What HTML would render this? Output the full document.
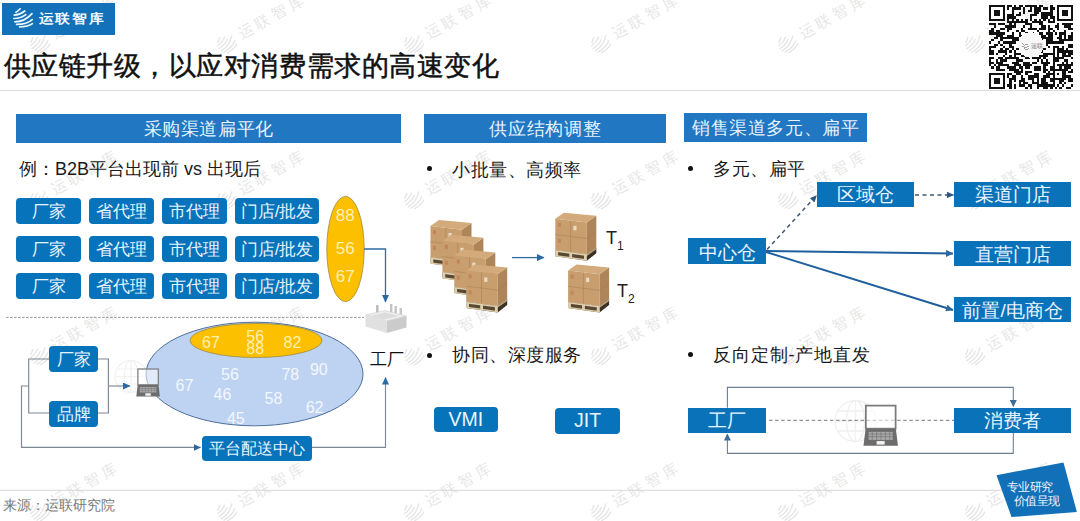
<!DOCTYPE html>
<html><head><meta charset="utf-8">
<style>
*{margin:0;padding:0;box-sizing:border-box}
html,body{width:1080px;height:521px;overflow:hidden;background:#fff}
body{position:relative;font-family:"Liberation Sans",sans-serif;color:#1a1a1a}
.a{position:absolute;white-space:nowrap;line-height:1}
.hb{position:absolute;background:#2277c3;color:#e6f3ff;font-size:18px;line-height:31px;text-align:center;height:29px;letter-spacing:0.65px;padding-left:0.65px;overflow:hidden}
.bx{position:absolute;background:#0673bb;color:#e8f5ff;border-radius:4px;text-align:center;font-size:17px;line-height:28px;height:26px}
.sq{position:absolute;background:#0a72b9;color:#e8f5ff;text-align:center;font-size:19px;height:26px;line-height:26px}
.t18{font-size:18px}
.bul{position:absolute;width:5.4px;height:5.4px;border-radius:50%;background:#111}
svg{position:absolute;left:0;top:0}
.wm{position:absolute;width:0;height:0;transform:rotate(-29.5deg)}
.wm svg{left:-10px;top:-10px}
.wm div{position:absolute;left:15px;top:-10px;font-size:15px;line-height:1;letter-spacing:4.2px;color:#e6e6e6;white-space:nowrap}

</style></head><body>

<!-- watermarks -->
<div class="wm" style="left:39.5px;top:44.3px"><svg width="20" height="20" viewBox="0 0 21 21"><g fill="none" stroke="#e6e6e6" stroke-width="1.5" stroke-linecap="round"><path d="M3,4.2 Q5,3.2 7.2,0.8"/><path d="M1.2,7.2 Q7,6.8 11.8,3"/><path d="M0.8,10.5 Q8,10.4 12.8,6.6"/><path d="M1.8,13.8 Q12,13.6 19,5.6"/><path d="M3.6,16.4 Q14,16.4 19.2,11.6"/><path d="M6.6,18.8 Q15,18.8 19.4,15.6"/></g></svg><div>运联智库</div></div>
<div class="wm" style="left:226.6px;top:44.3px"><svg width="20" height="20" viewBox="0 0 21 21"><g fill="none" stroke="#e6e6e6" stroke-width="1.5" stroke-linecap="round"><path d="M3,4.2 Q5,3.2 7.2,0.8"/><path d="M1.2,7.2 Q7,6.8 11.8,3"/><path d="M0.8,10.5 Q8,10.4 12.8,6.6"/><path d="M1.8,13.8 Q12,13.6 19,5.6"/><path d="M3.6,16.4 Q14,16.4 19.2,11.6"/><path d="M6.6,18.8 Q15,18.8 19.4,15.6"/></g></svg><div>运联智库</div></div>
<div class="wm" style="left:413.7px;top:44.3px"><svg width="20" height="20" viewBox="0 0 21 21"><g fill="none" stroke="#e6e6e6" stroke-width="1.5" stroke-linecap="round"><path d="M3,4.2 Q5,3.2 7.2,0.8"/><path d="M1.2,7.2 Q7,6.8 11.8,3"/><path d="M0.8,10.5 Q8,10.4 12.8,6.6"/><path d="M1.8,13.8 Q12,13.6 19,5.6"/><path d="M3.6,16.4 Q14,16.4 19.2,11.6"/><path d="M6.6,18.8 Q15,18.8 19.4,15.6"/></g></svg><div>运联智库</div></div>
<div class="wm" style="left:600.8px;top:44.3px"><svg width="20" height="20" viewBox="0 0 21 21"><g fill="none" stroke="#e6e6e6" stroke-width="1.5" stroke-linecap="round"><path d="M3,4.2 Q5,3.2 7.2,0.8"/><path d="M1.2,7.2 Q7,6.8 11.8,3"/><path d="M0.8,10.5 Q8,10.4 12.8,6.6"/><path d="M1.8,13.8 Q12,13.6 19,5.6"/><path d="M3.6,16.4 Q14,16.4 19.2,11.6"/><path d="M6.6,18.8 Q15,18.8 19.4,15.6"/></g></svg><div>运联智库</div></div>
<div class="wm" style="left:787.9px;top:44.3px"><svg width="20" height="20" viewBox="0 0 21 21"><g fill="none" stroke="#e6e6e6" stroke-width="1.5" stroke-linecap="round"><path d="M3,4.2 Q5,3.2 7.2,0.8"/><path d="M1.2,7.2 Q7,6.8 11.8,3"/><path d="M0.8,10.5 Q8,10.4 12.8,6.6"/><path d="M1.8,13.8 Q12,13.6 19,5.6"/><path d="M3.6,16.4 Q14,16.4 19.2,11.6"/><path d="M6.6,18.8 Q15,18.8 19.4,15.6"/></g></svg><div>运联智库</div></div>
<div class="wm" style="left:975.0px;top:44.3px"><svg width="20" height="20" viewBox="0 0 21 21"><g fill="none" stroke="#e6e6e6" stroke-width="1.5" stroke-linecap="round"><path d="M3,4.2 Q5,3.2 7.2,0.8"/><path d="M1.2,7.2 Q7,6.8 11.8,3"/><path d="M0.8,10.5 Q8,10.4 12.8,6.6"/><path d="M1.8,13.8 Q12,13.6 19,5.6"/><path d="M3.6,16.4 Q14,16.4 19.2,11.6"/><path d="M6.6,18.8 Q15,18.8 19.4,15.6"/></g></svg><div>运联智库</div></div>
<div class="wm" style="left:39.5px;top:200.3px"><svg width="20" height="20" viewBox="0 0 21 21"><g fill="none" stroke="#e6e6e6" stroke-width="1.5" stroke-linecap="round"><path d="M3,4.2 Q5,3.2 7.2,0.8"/><path d="M1.2,7.2 Q7,6.8 11.8,3"/><path d="M0.8,10.5 Q8,10.4 12.8,6.6"/><path d="M1.8,13.8 Q12,13.6 19,5.6"/><path d="M3.6,16.4 Q14,16.4 19.2,11.6"/><path d="M6.6,18.8 Q15,18.8 19.4,15.6"/></g></svg><div>运联智库</div></div>
<div class="wm" style="left:226.6px;top:200.3px"><svg width="20" height="20" viewBox="0 0 21 21"><g fill="none" stroke="#e6e6e6" stroke-width="1.5" stroke-linecap="round"><path d="M3,4.2 Q5,3.2 7.2,0.8"/><path d="M1.2,7.2 Q7,6.8 11.8,3"/><path d="M0.8,10.5 Q8,10.4 12.8,6.6"/><path d="M1.8,13.8 Q12,13.6 19,5.6"/><path d="M3.6,16.4 Q14,16.4 19.2,11.6"/><path d="M6.6,18.8 Q15,18.8 19.4,15.6"/></g></svg><div>运联智库</div></div>
<div class="wm" style="left:413.7px;top:200.3px"><svg width="20" height="20" viewBox="0 0 21 21"><g fill="none" stroke="#e6e6e6" stroke-width="1.5" stroke-linecap="round"><path d="M3,4.2 Q5,3.2 7.2,0.8"/><path d="M1.2,7.2 Q7,6.8 11.8,3"/><path d="M0.8,10.5 Q8,10.4 12.8,6.6"/><path d="M1.8,13.8 Q12,13.6 19,5.6"/><path d="M3.6,16.4 Q14,16.4 19.2,11.6"/><path d="M6.6,18.8 Q15,18.8 19.4,15.6"/></g></svg><div>运联智库</div></div>
<div class="wm" style="left:600.8px;top:200.3px"><svg width="20" height="20" viewBox="0 0 21 21"><g fill="none" stroke="#e6e6e6" stroke-width="1.5" stroke-linecap="round"><path d="M3,4.2 Q5,3.2 7.2,0.8"/><path d="M1.2,7.2 Q7,6.8 11.8,3"/><path d="M0.8,10.5 Q8,10.4 12.8,6.6"/><path d="M1.8,13.8 Q12,13.6 19,5.6"/><path d="M3.6,16.4 Q14,16.4 19.2,11.6"/><path d="M6.6,18.8 Q15,18.8 19.4,15.6"/></g></svg><div>运联智库</div></div>
<div class="wm" style="left:787.9px;top:200.3px"><svg width="20" height="20" viewBox="0 0 21 21"><g fill="none" stroke="#e6e6e6" stroke-width="1.5" stroke-linecap="round"><path d="M3,4.2 Q5,3.2 7.2,0.8"/><path d="M1.2,7.2 Q7,6.8 11.8,3"/><path d="M0.8,10.5 Q8,10.4 12.8,6.6"/><path d="M1.8,13.8 Q12,13.6 19,5.6"/><path d="M3.6,16.4 Q14,16.4 19.2,11.6"/><path d="M6.6,18.8 Q15,18.8 19.4,15.6"/></g></svg><div>运联智库</div></div>
<div class="wm" style="left:975.0px;top:200.3px"><svg width="20" height="20" viewBox="0 0 21 21"><g fill="none" stroke="#e6e6e6" stroke-width="1.5" stroke-linecap="round"><path d="M3,4.2 Q5,3.2 7.2,0.8"/><path d="M1.2,7.2 Q7,6.8 11.8,3"/><path d="M0.8,10.5 Q8,10.4 12.8,6.6"/><path d="M1.8,13.8 Q12,13.6 19,5.6"/><path d="M3.6,16.4 Q14,16.4 19.2,11.6"/><path d="M6.6,18.8 Q15,18.8 19.4,15.6"/></g></svg><div>运联智库</div></div>
<div class="wm" style="left:39.5px;top:356.3px"><svg width="20" height="20" viewBox="0 0 21 21"><g fill="none" stroke="#e6e6e6" stroke-width="1.5" stroke-linecap="round"><path d="M3,4.2 Q5,3.2 7.2,0.8"/><path d="M1.2,7.2 Q7,6.8 11.8,3"/><path d="M0.8,10.5 Q8,10.4 12.8,6.6"/><path d="M1.8,13.8 Q12,13.6 19,5.6"/><path d="M3.6,16.4 Q14,16.4 19.2,11.6"/><path d="M6.6,18.8 Q15,18.8 19.4,15.6"/></g></svg><div>运联智库</div></div>
<div class="wm" style="left:226.6px;top:356.3px"><svg width="20" height="20" viewBox="0 0 21 21"><g fill="none" stroke="#e6e6e6" stroke-width="1.5" stroke-linecap="round"><path d="M3,4.2 Q5,3.2 7.2,0.8"/><path d="M1.2,7.2 Q7,6.8 11.8,3"/><path d="M0.8,10.5 Q8,10.4 12.8,6.6"/><path d="M1.8,13.8 Q12,13.6 19,5.6"/><path d="M3.6,16.4 Q14,16.4 19.2,11.6"/><path d="M6.6,18.8 Q15,18.8 19.4,15.6"/></g></svg><div>运联智库</div></div>
<div class="wm" style="left:413.7px;top:356.3px"><svg width="20" height="20" viewBox="0 0 21 21"><g fill="none" stroke="#e6e6e6" stroke-width="1.5" stroke-linecap="round"><path d="M3,4.2 Q5,3.2 7.2,0.8"/><path d="M1.2,7.2 Q7,6.8 11.8,3"/><path d="M0.8,10.5 Q8,10.4 12.8,6.6"/><path d="M1.8,13.8 Q12,13.6 19,5.6"/><path d="M3.6,16.4 Q14,16.4 19.2,11.6"/><path d="M6.6,18.8 Q15,18.8 19.4,15.6"/></g></svg><div>运联智库</div></div>
<div class="wm" style="left:600.8px;top:356.3px"><svg width="20" height="20" viewBox="0 0 21 21"><g fill="none" stroke="#e6e6e6" stroke-width="1.5" stroke-linecap="round"><path d="M3,4.2 Q5,3.2 7.2,0.8"/><path d="M1.2,7.2 Q7,6.8 11.8,3"/><path d="M0.8,10.5 Q8,10.4 12.8,6.6"/><path d="M1.8,13.8 Q12,13.6 19,5.6"/><path d="M3.6,16.4 Q14,16.4 19.2,11.6"/><path d="M6.6,18.8 Q15,18.8 19.4,15.6"/></g></svg><div>运联智库</div></div>
<div class="wm" style="left:787.9px;top:356.3px"><svg width="20" height="20" viewBox="0 0 21 21"><g fill="none" stroke="#e6e6e6" stroke-width="1.5" stroke-linecap="round"><path d="M3,4.2 Q5,3.2 7.2,0.8"/><path d="M1.2,7.2 Q7,6.8 11.8,3"/><path d="M0.8,10.5 Q8,10.4 12.8,6.6"/><path d="M1.8,13.8 Q12,13.6 19,5.6"/><path d="M3.6,16.4 Q14,16.4 19.2,11.6"/><path d="M6.6,18.8 Q15,18.8 19.4,15.6"/></g></svg><div>运联智库</div></div>
<div class="wm" style="left:975.0px;top:356.3px"><svg width="20" height="20" viewBox="0 0 21 21"><g fill="none" stroke="#e6e6e6" stroke-width="1.5" stroke-linecap="round"><path d="M3,4.2 Q5,3.2 7.2,0.8"/><path d="M1.2,7.2 Q7,6.8 11.8,3"/><path d="M0.8,10.5 Q8,10.4 12.8,6.6"/><path d="M1.8,13.8 Q12,13.6 19,5.6"/><path d="M3.6,16.4 Q14,16.4 19.2,11.6"/><path d="M6.6,18.8 Q15,18.8 19.4,15.6"/></g></svg><div>运联智库</div></div>
<div class="wm" style="left:39.5px;top:512.3px"><svg width="20" height="20" viewBox="0 0 21 21"><g fill="none" stroke="#e6e6e6" stroke-width="1.5" stroke-linecap="round"><path d="M3,4.2 Q5,3.2 7.2,0.8"/><path d="M1.2,7.2 Q7,6.8 11.8,3"/><path d="M0.8,10.5 Q8,10.4 12.8,6.6"/><path d="M1.8,13.8 Q12,13.6 19,5.6"/><path d="M3.6,16.4 Q14,16.4 19.2,11.6"/><path d="M6.6,18.8 Q15,18.8 19.4,15.6"/></g></svg><div>运联智库</div></div>
<div class="wm" style="left:226.6px;top:512.3px"><svg width="20" height="20" viewBox="0 0 21 21"><g fill="none" stroke="#e6e6e6" stroke-width="1.5" stroke-linecap="round"><path d="M3,4.2 Q5,3.2 7.2,0.8"/><path d="M1.2,7.2 Q7,6.8 11.8,3"/><path d="M0.8,10.5 Q8,10.4 12.8,6.6"/><path d="M1.8,13.8 Q12,13.6 19,5.6"/><path d="M3.6,16.4 Q14,16.4 19.2,11.6"/><path d="M6.6,18.8 Q15,18.8 19.4,15.6"/></g></svg><div>运联智库</div></div>
<div class="wm" style="left:413.7px;top:512.3px"><svg width="20" height="20" viewBox="0 0 21 21"><g fill="none" stroke="#e6e6e6" stroke-width="1.5" stroke-linecap="round"><path d="M3,4.2 Q5,3.2 7.2,0.8"/><path d="M1.2,7.2 Q7,6.8 11.8,3"/><path d="M0.8,10.5 Q8,10.4 12.8,6.6"/><path d="M1.8,13.8 Q12,13.6 19,5.6"/><path d="M3.6,16.4 Q14,16.4 19.2,11.6"/><path d="M6.6,18.8 Q15,18.8 19.4,15.6"/></g></svg><div>运联智库</div></div>
<div class="wm" style="left:600.8px;top:512.3px"><svg width="20" height="20" viewBox="0 0 21 21"><g fill="none" stroke="#e6e6e6" stroke-width="1.5" stroke-linecap="round"><path d="M3,4.2 Q5,3.2 7.2,0.8"/><path d="M1.2,7.2 Q7,6.8 11.8,3"/><path d="M0.8,10.5 Q8,10.4 12.8,6.6"/><path d="M1.8,13.8 Q12,13.6 19,5.6"/><path d="M3.6,16.4 Q14,16.4 19.2,11.6"/><path d="M6.6,18.8 Q15,18.8 19.4,15.6"/></g></svg><div>运联智库</div></div>
<div class="wm" style="left:787.9px;top:512.3px"><svg width="20" height="20" viewBox="0 0 21 21"><g fill="none" stroke="#e6e6e6" stroke-width="1.5" stroke-linecap="round"><path d="M3,4.2 Q5,3.2 7.2,0.8"/><path d="M1.2,7.2 Q7,6.8 11.8,3"/><path d="M0.8,10.5 Q8,10.4 12.8,6.6"/><path d="M1.8,13.8 Q12,13.6 19,5.6"/><path d="M3.6,16.4 Q14,16.4 19.2,11.6"/><path d="M6.6,18.8 Q15,18.8 19.4,15.6"/></g></svg><div>运联智库</div></div>
<div class="wm" style="left:975.0px;top:512.3px"><svg width="20" height="20" viewBox="0 0 21 21"><g fill="none" stroke="#e6e6e6" stroke-width="1.5" stroke-linecap="round"><path d="M3,4.2 Q5,3.2 7.2,0.8"/><path d="M1.2,7.2 Q7,6.8 11.8,3"/><path d="M0.8,10.5 Q8,10.4 12.8,6.6"/><path d="M1.8,13.8 Q12,13.6 19,5.6"/><path d="M3.6,16.4 Q14,16.4 19.2,11.6"/><path d="M6.6,18.8 Q15,18.8 19.4,15.6"/></g></svg><div>运联智库</div></div>
<!-- logo -->
<div class="a" style="left:2px;top:3px;width:113px;height:32px;background:#1271b9"></div>
<svg style="left:13px;top:8px" width="21" height="21" viewBox="0 0 21 21"><g fill="none" stroke="#eaf6ff" stroke-width="1.7" stroke-linecap="round"><path d="M3,4.2 Q5,3.2 7.2,0.8"/><path d="M1.2,7.2 Q7,6.8 11.8,3"/><path d="M0.8,10.5 Q8,10.4 12.8,6.6"/><path d="M1.8,13.8 Q12,13.6 19,5.6"/><path d="M3.6,16.4 Q14,16.4 19.2,11.6"/><path d="M6.6,18.8 Q15,18.8 19.4,15.6"/></g></svg>
<div class="a" style="left:38.5px;top:10px;font-size:15px;font-weight:bold;color:#f4faff;letter-spacing:1.7px;transform:scaleY(0.88);transform-origin:0 100%">运联智库</div>

<svg style="left:989px;top:4.5px" width="84" height="84" viewBox="0 0 37 37" shape-rendering="crispEdges"><path d="M0 0h7v1h-7zM8 0h2v1h-2zM11 0h1v1h-1zM13 0h2v1h-2zM16 0h5v1h-5zM22 0h2v1h-2zM27 0h1v1h-1zM30 0h7v1h-7zM0 1h1v1h-1zM6 1h1v1h-1zM8 1h1v1h-1zM10 1h4v1h-4zM15 1h1v1h-1zM18 1h1v1h-1zM20 1h3v1h-3zM24 1h2v1h-2zM27 1h2v1h-2zM30 1h1v1h-1zM36 1h1v1h-1zM0 2h1v1h-1zM2 2h3v1h-3zM6 2h1v1h-1zM10 2h1v1h-1zM15 2h1v1h-1zM17 2h2v1h-2zM20 2h3v1h-3zM27 2h1v1h-1zM30 2h1v1h-1zM32 2h3v1h-3zM36 2h1v1h-1zM0 3h1v1h-1zM2 3h3v1h-3zM6 3h1v1h-1zM10 3h1v1h-1zM13 3h1v1h-1zM15 3h1v1h-1zM20 3h2v1h-2zM23 3h5v1h-5zM30 3h1v1h-1zM32 3h3v1h-3zM36 3h1v1h-1zM0 4h1v1h-1zM2 4h3v1h-3zM6 4h1v1h-1zM8 4h3v1h-3zM12 4h2v1h-2zM18 4h3v1h-3zM23 4h5v1h-5zM30 4h1v1h-1zM32 4h3v1h-3zM36 4h1v1h-1zM0 5h1v1h-1zM6 5h1v1h-1zM8 5h4v1h-4zM18 5h1v1h-1zM23 5h3v1h-3zM27 5h2v1h-2zM30 5h1v1h-1zM36 5h1v1h-1zM0 6h7v1h-7zM8 6h1v1h-1zM10 6h1v1h-1zM12 6h1v1h-1zM14 6h1v1h-1zM16 6h1v1h-1zM18 6h1v1h-1zM20 6h1v1h-1zM22 6h1v1h-1zM24 6h1v1h-1zM26 6h1v1h-1zM28 6h1v1h-1zM30 6h7v1h-7zM8 7h9v1h-9zM19 7h5v1h-5zM26 7h3v1h-3zM0 8h3v1h-3zM4 8h3v1h-3zM9 8h1v1h-1zM11 8h1v1h-1zM16 8h3v1h-3zM22 8h2v1h-2zM30 8h1v1h-1zM32 8h5v1h-5zM2 9h1v1h-1zM7 9h5v1h-5zM15 9h1v1h-1zM18 9h1v1h-1zM23 9h2v1h-2zM26 9h1v1h-1zM29 9h2v1h-2zM33 9h3v1h-3zM1 10h1v1h-1zM5 10h2v1h-2zM8 10h2v1h-2zM14 10h1v1h-1zM17 10h4v1h-4zM22 10h3v1h-3zM26 10h2v1h-2zM30 10h1v1h-1zM35 10h2v1h-2zM0 11h2v1h-2zM3 11h2v1h-2zM8 11h1v1h-1zM12 11h1v1h-1zM14 11h2v1h-2zM21 11h1v1h-1zM26 11h1v1h-1zM28 11h1v1h-1zM33 11h1v1h-1zM0 12h7v1h-7zM10 12h1v1h-1zM13 12h1v1h-1zM16 12h1v1h-1zM18 12h2v1h-2zM22 12h2v1h-2zM25 12h3v1h-3zM29 12h1v1h-1zM31 12h3v1h-3zM36 12h1v1h-1zM3 13h3v1h-3zM8 13h3v1h-3zM13 13h2v1h-2zM23 13h2v1h-2zM26 13h2v1h-2zM31 13h1v1h-1zM33 13h1v1h-1zM35 13h2v1h-2zM2 14h2v1h-2zM5 14h8v1h-8zM14 14h1v1h-1zM23 14h5v1h-5zM30 14h2v1h-2zM33 14h1v1h-1zM35 14h2v1h-2zM1 15h1v1h-1zM5 15h1v1h-1zM10 15h4v1h-4zM23 15h1v1h-1zM25 15h3v1h-3zM31 15h6v1h-6zM0 16h1v1h-1zM4 16h1v1h-1zM6 16h6v1h-6zM13 16h1v1h-1zM25 16h8v1h-8zM2 17h2v1h-2zM5 17h1v1h-1zM9 17h1v1h-1zM25 17h1v1h-1zM35 17h2v1h-2zM0 18h3v1h-3zM6 18h1v1h-1zM9 18h2v1h-2zM26 18h1v1h-1zM28 18h3v1h-3zM32 18h1v1h-1zM35 18h2v1h-2zM0 19h1v1h-1zM5 19h1v1h-1zM7 19h2v1h-2zM10 19h1v1h-1zM12 19h2v1h-2zM24 19h1v1h-1zM28 19h1v1h-1zM30 19h3v1h-3zM34 19h1v1h-1zM0 20h2v1h-2zM4 20h4v1h-4zM9 20h1v1h-1zM11 20h1v1h-1zM23 20h1v1h-1zM28 20h1v1h-1zM30 20h7v1h-7zM0 21h2v1h-2zM3 21h1v1h-1zM7 21h1v1h-1zM11 21h3v1h-3zM24 21h5v1h-5zM30 21h1v1h-1zM32 21h2v1h-2zM35 21h2v1h-2zM6 22h1v1h-1zM9 22h1v1h-1zM11 22h1v1h-1zM14 22h2v1h-2zM22 22h4v1h-4zM28 22h1v1h-1zM30 22h1v1h-1zM32 22h4v1h-4zM0 23h2v1h-2zM4 23h2v1h-2zM7 23h6v1h-6zM16 23h2v1h-2zM19 23h4v1h-4zM24 23h1v1h-1zM28 23h5v1h-5zM36 23h1v1h-1zM0 24h1v1h-1zM3 24h1v1h-1zM5 24h3v1h-3zM12 24h3v1h-3zM21 24h1v1h-1zM23 24h1v1h-1zM25 24h1v1h-1zM28 24h3v1h-3zM33 24h2v1h-2zM0 25h2v1h-2zM3 25h3v1h-3zM10 25h3v1h-3zM15 25h3v1h-3zM19 25h2v1h-2zM23 25h4v1h-4zM28 25h1v1h-1zM32 25h1v1h-1zM34 25h1v1h-1zM36 25h1v1h-1zM0 26h1v1h-1zM2 26h1v1h-1zM4 26h5v1h-5zM11 26h3v1h-3zM15 26h4v1h-4zM24 26h2v1h-2zM28 26h1v1h-1zM30 26h7v1h-7zM1 27h1v1h-1zM3 27h2v1h-2zM8 27h4v1h-4zM13 27h2v1h-2zM16 27h2v1h-2zM20 27h3v1h-3zM24 27h1v1h-1zM27 27h2v1h-2zM31 27h1v1h-1zM33 27h3v1h-3zM3 28h4v1h-4zM9 28h4v1h-4zM14 28h1v1h-1zM20 28h3v1h-3zM24 28h2v1h-2zM27 28h8v1h-8zM36 28h1v1h-1zM11 29h4v1h-4zM16 29h3v1h-3zM24 29h1v1h-1zM26 29h1v1h-1zM28 29h1v1h-1zM32 29h2v1h-2zM35 29h2v1h-2zM0 30h7v1h-7zM8 30h2v1h-2zM12 30h2v1h-2zM16 30h1v1h-1zM20 30h2v1h-2zM25 30h4v1h-4zM30 30h1v1h-1zM32 30h2v1h-2zM0 31h1v1h-1zM6 31h1v1h-1zM8 31h1v1h-1zM10 31h2v1h-2zM14 31h1v1h-1zM17 31h5v1h-5zM24 31h3v1h-3zM28 31h1v1h-1zM32 31h4v1h-4zM0 32h1v1h-1zM2 32h3v1h-3zM6 32h1v1h-1zM9 32h3v1h-3zM14 32h2v1h-2zM17 32h3v1h-3zM21 32h1v1h-1zM23 32h2v1h-2zM27 32h7v1h-7zM35 32h2v1h-2zM0 33h1v1h-1zM2 33h3v1h-3zM6 33h1v1h-1zM9 33h1v1h-1zM11 33h1v1h-1zM13 33h3v1h-3zM19 33h1v1h-1zM21 33h1v1h-1zM23 33h2v1h-2zM27 33h2v1h-2zM31 33h2v1h-2zM35 33h2v1h-2zM0 34h1v1h-1zM2 34h3v1h-3zM6 34h1v1h-1zM9 34h1v1h-1zM13 34h1v1h-1zM15 34h2v1h-2zM19 34h3v1h-3zM23 34h3v1h-3zM28 34h1v1h-1zM31 34h1v1h-1zM33 34h1v1h-1zM0 35h1v1h-1zM6 35h1v1h-1zM8 35h2v1h-2zM11 35h1v1h-1zM13 35h3v1h-3zM17 35h2v1h-2zM21 35h8v1h-8zM30 35h1v1h-1zM32 35h1v1h-1zM36 35h1v1h-1zM0 36h7v1h-7zM9 36h1v1h-1zM11 36h1v1h-1zM16 36h1v1h-1zM18 36h1v1h-1zM21 36h1v1h-1zM24 36h2v1h-2zM27 36h1v1h-1zM29 36h1v1h-1zM31 36h1v1h-1zM34 36h2v1h-2z" fill="#111"/><circle cx="18.4" cy="17.6" r="5.6" fill="#f7f7f7"/><path d="M14.6,17 q1,1.3 2.6,0.2 M14.7,18.2 q1.2,1.2 2.8,0 M15.2,19.3 q1,0.8 2.2,0" stroke="#8a8a8a" stroke-width="0.35" fill="none"/><text x="18.3" y="19.1" font-size="2.7" fill="#6a6a6a" font-family="Liberation Sans, sans-serif">运联</text></svg>
<!-- title -->
<div class="a" style="left:3.5px;top:53px;font-size:27px;letter-spacing:0.55px;color:#111;-webkit-text-stroke:0.5px #111">供应链升级，以应对消费需求的高速变化</div>
<div class="a" style="left:0;top:90px;width:1080px;height:1px;background:#dcdcdc"></div>

<!-- header bars -->
<div class="hb" style="left:16px;top:114px;width:385px">采购渠道扁平化</div>
<div class="hb" style="left:424px;top:114px;width:242px">供应结构调整</div>
<div class="hb" style="left:684px;top:113px;width:183px">销售渠道多元、扁平</div>

<!-- left column -->
<div class="a t18" style="left:19px;top:159.5px">例：B2B平台出现前 vs 出现后</div>

<div class="bx" style="left:16px;top:198px;width:65px">厂家</div>
<div class="bx" style="left:89px;top:198px;width:65px">省代理</div>
<div class="bx" style="left:162px;top:198px;width:65px">市代理</div>
<div class="bx" style="left:235px;top:198px;width:84px">门店/批发</div>
<div class="bx" style="left:16px;top:236px;width:65px">厂家</div>
<div class="bx" style="left:89px;top:236px;width:65px">省代理</div>
<div class="bx" style="left:162px;top:236px;width:65px">市代理</div>
<div class="bx" style="left:235px;top:236px;width:84px">门店/批发</div>
<div class="bx" style="left:16px;top:273px;width:65px">厂家</div>
<div class="bx" style="left:89px;top:273px;width:65px">省代理</div>
<div class="bx" style="left:162px;top:273px;width:65px">市代理</div>
<div class="bx" style="left:235px;top:273px;width:84px">门店/批发</div>

<svg width="1080" height="521" viewBox="0 0 1080 521">
<defs>
<marker id="ah" markerWidth="7.5" markerHeight="7" refX="7" refY="3.5" orient="auto" markerUnits="userSpaceOnUse"><path d="M0,0 L7.5,3.5 L0,7 z" fill="#2a68a2"/></marker>
<marker id="ahd" markerWidth="7" markerHeight="6.5" refX="6.5" refY="3.25" orient="auto" markerUnits="userSpaceOnUse"><path d="M0,0 L7,3.25 L0,6.5 z" fill="#2c5a85"/></marker>
<marker id="ah2" markerWidth="7" markerHeight="7" refX="6.5" refY="3.5" orient="auto" markerUnits="userSpaceOnUse"><path d="M0,0 L7,3.5 L0,7 z" fill="#3f6b98"/></marker>
</defs>
<!-- globe -->
<g fill="none" stroke="#f1f1f1" stroke-width="1.2"><circle cx="131" cy="376.5" r="16"/><ellipse cx="131" cy="376.5" rx="7" ry="16"/><path d="M131,360.5v32M116,376.5h30M118,369h26M118,384h26"/></g>
<g fill="none" stroke="#f0f0f0" stroke-width="1.3">
<circle cx="855.5" cy="421" r="20.5"/>
<ellipse cx="855.5" cy="421" rx="9" ry="20.5"/>
<line x1="855.5" y1="400.5" x2="855.5" y2="441.5"/>
<path d="M837,411 h37 M835,421 h41 M837,431 h37"/>
</g>
<!-- yellow ellipse -->
<ellipse cx="345.5" cy="249" rx="18.7" ry="52.6" fill="#fdc000" stroke="#9c8a40" stroke-width="0.8"/>
<polyline points="364,249 385.5,249 385.5,302" fill="none" stroke="#2e6da4" stroke-width="1.3" marker-end="url(#ah)"/>
<!-- dashed divider -->
<line x1="6" y1="317.4" x2="364" y2="317.4" stroke="#9a9a9a" stroke-width="1" stroke-dasharray="2.6,1.4"/>
<!-- big ellipse -->
<ellipse cx="254.5" cy="374" rx="108.5" ry="51.8" fill="#bed3f1" stroke="#4d6f9c" stroke-width="1"/>
<ellipse cx="256" cy="340.5" rx="66" ry="17" fill="#fdc000" stroke="#9c8a40" stroke-width="0.8"/>
<!-- brackets -->
<g fill="none" stroke="#7d8894" stroke-width="1.15">
<polyline points="49,359 28.7,359 28.7,413 49,413"/>
<polyline points="97,359 108.4,359 108.4,413 97,413"/>
<polyline points="28.7,386 21.5,386 21.5,447.4 200.5,447.4" marker-end="url(#ah)"/>
<line x1="108.4" y1="386" x2="130" y2="386" marker-end="url(#ah)"/>
<polyline points="312,447.4 385.5,447.4 385.5,377.5" marker-end="url(#ah)"/>
</g>
<!-- middle arrow -->
<line x1="512" y1="257.6" x2="544" y2="257.6" stroke="#2e6da4" stroke-width="1.3" marker-end="url(#ah)"/>
<!-- right column arrows -->
<g fill="none" stroke="#1f5f9d" stroke-width="1.9">
<line x1="766" y1="251" x2="953" y2="253.5" marker-end="url(#ah)"/>
<line x1="766" y1="252" x2="953" y2="310" marker-end="url(#ah)"/>
</g>
<g fill="none" stroke="#3f5870" stroke-width="1.5" stroke-dasharray="4,3.5">
<line x1="767" y1="249.5" x2="816.5" y2="195.5" marker-end="url(#ahd)"/>
<line x1="915" y1="194.9" x2="953.5" y2="194.9" marker-end="url(#ahd)"/>
</g>
<!-- bottom right loop -->
<g fill="none" stroke="#6a7f96" stroke-width="1.1">
<polyline points="727.4,407.8 727.4,387.4 1013.3,387.4 1013.3,406.5" marker-end="url(#ah2)"/>
<polyline points="1013.3,433 1013.3,453.4 727.4,453.4 727.4,434" marker-end="url(#ah2)"/>
</g>
<line x1="769" y1="420.3" x2="954" y2="420.3" stroke="#6a6a6a" stroke-width="0.9" stroke-dasharray="3.5,2.6"/>
<!-- footer line -->
<line x1="0" y1="490.3" x2="1003" y2="490.3" stroke="#d8d8d8" stroke-width="1"/>
<!-- badge -->
<polygon points="996.5,475.2 1063.5,462.5 1076.9,512 1011.5,517" fill="#1170b8"/>
</svg>

<svg width="1080" height="521" viewBox="0 0 1080 521">
<defs>
<g id="stk">
<polygon points="0,37.3 31.5,41.5 31.5,48 0,43.5" fill="#5a4832"/>
<polygon points="31.5,41.5 41,35 41,40.5 31.5,48" fill="#3e3224"/>
<polygon points="0,37.3 31.5,41.5 31.5,43.2 0,39" fill="#dccfae"/>
<polygon points="0,42.2 31.5,46.5 31.5,48 0,43.7" fill="#d4c6a2"/>
<rect x="0" y="38" width="2.8" height="5.5" fill="#ddd0ae"/>
<polygon points="14,39.2 16.8,39.6 16.8,45.6 14,45.2" fill="#ddd0ae"/>
<polygon points="28.7,41.1 31.5,41.5 31.5,47.6 28.7,47.2" fill="#ddd0ae"/>
<polygon points="31.5,41.5 41,35 41,36.5 31.5,43.2" fill="#b8aa88"/>
<polygon points="0,6 31.5,9.7 31.5,41.5 0,37.3" fill="#c89e6e"/>
<polygon points="31.5,9.7 41,3 41,35 31.5,41.5" fill="#ad8558"/>
<polygon points="0,6 8.5,0 41,3 31.5,9.7" fill="#d2aa7c"/>
<path d="M15.3,7.8 V39.6 M0,21.8 L31.5,25.7 M31.5,25.4 L41,19" stroke="#a87a4c" stroke-width="0.7" fill="none" opacity="0.7"/>
<rect x="18" y="13" width="3.2" height="4.5" fill="#eadcc4"/>
<rect x="2.5" y="10" width="3" height="4" fill="#b8673f" opacity="0.45"/>
<rect x="2.5" y="26" width="3" height="4" fill="#b8673f" opacity="0.4"/>
</g>
</defs>
<use href="#stk" x="430.5" y="220"/>
<use href="#stk" x="442.4" y="234.8"/>
<use href="#stk" x="454.3" y="249.6"/>
<use href="#stk" x="466.2" y="264.4"/>
<use href="#stk" x="555.3" y="212.8"/>
<use href="#stk" x="568.1" y="264.6"/>
</svg>
<svg width="1080" height="521" viewBox="0 0 1080 521">
<defs>
<g id="lap">
<rect x="1.6" y="0" width="20.4" height="15.8" fill="rgba(255,255,255,0.55)" stroke="#7a7a7a" stroke-width="1.2"/>
<polygon points="1.4,16 22.2,16 23.6,27.5 0,27.5" fill="#6d6d6d"/>
<rect x="3.5" y="18" width="16.5" height="5.5" fill="#a9a9a9"/>
<path d="M3.5,19.5h16.5M3.5,21.3h16.5M6,18v5.5M9,18v5.5M12,18v5.5M15,18v5.5M18,18v5.5" stroke="#777" stroke-width="0.5"/>
<rect x="9" y="24.3" width="5.5" height="2.4" fill="#f4f4f4"/>
</g>
</defs>
<use href="#lap" x="136.3" y="369"/>
<use href="#lap" transform="translate(863.5,405.6) scale(1.46,1.46)" />
<!-- factory -->
<g>
<rect x="376" y="305" width="2.6" height="9" fill="#bdbdbd"/>
<rect x="390" y="304" width="2.4" height="11" fill="#c4c4c4"/>
<rect x="394.5" y="306" width="2.4" height="10" fill="#c4c4c4"/>
<rect x="399.5" y="308" width="2.4" height="9" fill="#c4c4c4"/>
<polygon points="365.5,315 385,310.5 406.5,316 387,321" fill="#eeeeee" stroke="#cfcfcf" stroke-width="0.6"/>
<polygon points="365.5,315 387,321 387,333 365.5,326.5" fill="#e0e0e0"/>
<polygon points="387,321 406.5,316 406.5,327.5 387,333" fill="#cbcbcb"/>
<polygon points="370,316 385,312.5 399,316 384,319.5" fill="#dcdcdc"/>
</g>
</svg>
<!-- yellow numbers -->
<div class="a" style="left:335.8px;top:207.1px;font-size:17px;color:#ffefb5">88</div>
<div class="a" style="left:335.8px;top:239.9px;font-size:17px;color:#ffefb5">56</div>
<div class="a" style="left:335.8px;top:268.1px;font-size:17px;color:#ffefb5">67</div>

<!-- factory label -->
<div class="a" style="left:370px;top:351px;font-size:17px;color:#111">工厂</div>

<div class="bx" style="left:49px;top:346px;width:49px;font-size:17px">厂家</div>
<div class="bx" style="left:49px;top:401px;width:49px;font-size:17px">品牌</div>
<div class="bx" style="left:201.5px;top:435.7px;width:110.5px;height:25.3px;line-height:26px;font-size:16px">平台配送中心</div>

<!-- ellipse numbers -->
<div class="a" style="left:202px;top:334.8px;font-size:16px;color:#ffefb5">67</div>
<div class="a" style="left:246.3px;top:328.5px;font-size:16px;color:#ffefb5">56</div>
<div class="a" style="left:246.3px;top:341.2px;font-size:16px;color:#ffefb5">88</div>
<div class="a" style="left:283.5px;top:334.8px;font-size:16px;color:#ffefb5">82</div>
<div class="a" style="left:221px;top:366.5px;font-size:16px;color:#f3f7ff">56</div>
<div class="a" style="left:281.4px;top:367.1px;font-size:16px;color:#f3f7ff">78</div>
<div class="a" style="left:309.9px;top:362.3px;font-size:16px;color:#f3f7ff">90</div>
<div class="a" style="left:175.6px;top:378px;font-size:16px;color:#f3f7ff">67</div>
<div class="a" style="left:213.6px;top:386.5px;font-size:16px;color:#f3f7ff">46</div>
<div class="a" style="left:264.6px;top:390.7px;font-size:16px;color:#f3f7ff">58</div>
<div class="a" style="left:305.7px;top:400.2px;font-size:16px;color:#f3f7ff">62</div>
<div class="a" style="left:226.9px;top:410.8px;font-size:16px;color:#f3f7ff">45</div>

<!-- middle column -->
<div class="bul" style="left:426.6px;top:165.8px"></div>
<div class="a t18" style="left:452px;top:160.5px;letter-spacing:0.5px">小批量、高频率</div>
<div class="bul" style="left:426.5px;top:352.5px"></div>
<div class="a t18" style="left:452px;top:346.2px;letter-spacing:0.5px">协同、深度服务</div>
<div class="bx" style="left:433.5px;top:406.5px;width:64.5px;height:25.3px;font-size:19.5px;line-height:25px">VMI</div>
<div class="bx" style="left:555.4px;top:408.1px;width:64.4px;height:25.7px;font-size:19.5px;line-height:25px">JIT</div>
<div class="a" style="left:606px;top:229px;font-size:18px;color:#222">T<span style="font-size:12px;position:relative;top:6px">1</span></div>
<div class="a" style="left:617px;top:282px;font-size:18px;color:#222">T<span style="font-size:12px;position:relative;top:6px">2</span></div>

<!-- right column -->
<div class="bul" style="left:688px;top:165.5px"></div>
<div class="a t18" style="left:713px;top:160px;letter-spacing:0.5px">多元、扁平</div>
<div class="sq" style="left:688px;top:238px;width:78px;height:26px;line-height:29px">中心仓</div>
<div class="sq" style="left:817px;top:182.4px;width:97.3px;height:25px;line-height:26.5px">区域仓</div>
<div class="sq" style="left:954.2px;top:182.4px;width:116.8px;height:25px;line-height:26.5px">渠道门店</div>
<div class="sq" style="left:954.2px;top:240.8px;width:116.8px;height:25.2px;line-height:27px">直营门店</div>
<div class="sq" style="left:954.2px;top:297.3px;width:116.8px;height:25.2px;line-height:27px">前置/电商仓</div>
<div class="bul" style="left:688px;top:352px"></div>
<div class="a t18" style="left:713px;top:345.8px;letter-spacing:0.85px">反向定制-产地直发</div>
<div class="sq" style="left:688.1px;top:407.6px;width:77.8px;height:25.5px;line-height:26px">工厂</div>
<div class="sq" style="left:954.2px;top:407.6px;width:116.8px;height:25.4px;line-height:26px">消费者</div>

<!-- footer -->
<div class="a" style="left:2.6px;top:497.6px;font-size:14px;color:#777">来源：运联研究院</div>
<div class="a" style="left:1006.5px;top:479.5px;font-size:12px;letter-spacing:-0.4px;color:#eef6ff;line-height:14.5px">专业研究</div><div class="a" style="left:1013.5px;top:494px;font-size:12px;letter-spacing:-0.4px;color:#eef6ff;line-height:14.5px">价值呈现</div>

</body></html>
